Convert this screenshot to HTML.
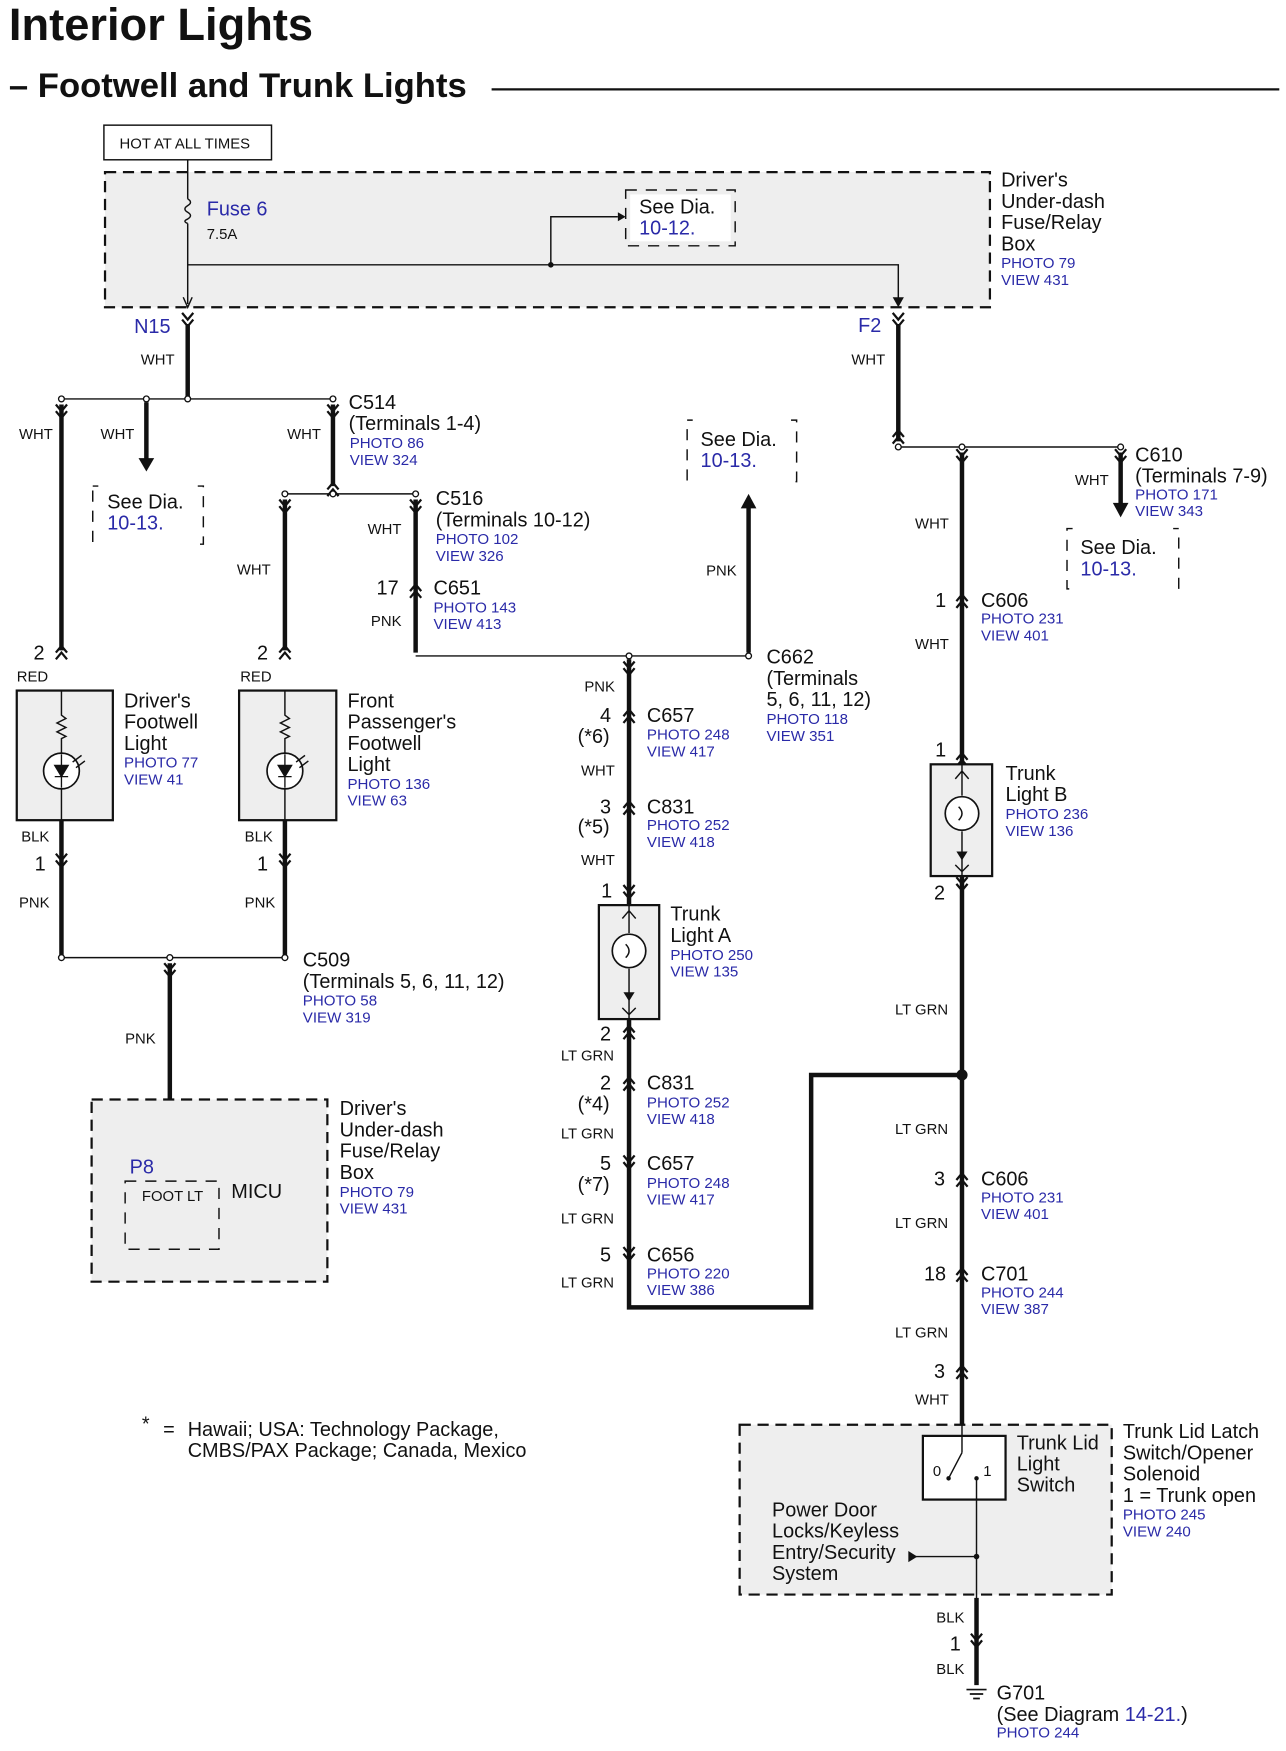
<!DOCTYPE html>
<html><head><meta charset="utf-8"><style>
html,body{margin:0;padding:0;background:#fff}
svg{display:block}
text{font-family:"Liberation Sans",Arial,sans-serif;fill:#111;font-size:17.8px}
.b{fill:#2a2aa8}
.s{font-size:13.3px}
.sb{font-size:13.5px;fill:#2a2aa8}
.w{stroke:#111;stroke-width:4;fill:none}
.t{stroke:#111;stroke-width:1.3;fill:none}
.d{stroke:#111;stroke-width:2;stroke-dasharray:10 6;fill:#eee}
.dn{stroke:#111;stroke-width:1.3;stroke-dasharray:10 8;fill:none}
</style></head><body>
<svg width="1286" height="1751" viewBox="0 0 1151 1567" preserveAspectRatio="none" xmlns="http://www.w3.org/2000/svg">
<defs>
<g id="cn"><path d="M-5,2 L0,-4 L5,2 M-5,8 L0,2 L5,8" stroke="#111" stroke-width="2" fill="none"/></g>
<g id="cv"><path d="M-5,-2 L0,4 L5,-2 M-5,-8 L0,-2 L5,-8" stroke="#111" stroke-width="2" fill="none"/></g>
<g id="dot"><circle r="2.6" fill="#fff" stroke="#111" stroke-width="1.2"/></g>
</defs>
<text x="8" y="36" style="font-size:40.5px;font-weight:bold">Interior Lights</text>
<text x="8" y="87" style="font-size:31px;font-weight:bold">– Footwell and Trunk Lights</text>
<line x1="440" y1="80" x2="1145" y2="80" stroke="#111" stroke-width="2"/>

<rect x="93" y="112" width="150" height="31" fill="#fff" stroke="#111" stroke-width="1.3"/>
<text x="107" y="133" class="s">HOT AT ALL TIMES</text>
<rect x="94" y="154" width="792" height="121" class="d"/>
<path d="M168,143 V178 M168,200 V272" class="t"/>
<path d="M168,178 q5,3 0,6 q-5,3 0,6 q5,3 0,6 q-5,2 0,4" class="t"/>
<text x="185" y="193" class="b">Fuse 6</text>
<text x="185" y="214" class="s">7.5A</text>
<path d="M168,237 H804 V272 M493,237 V194 H553" class="t"/>
<path d="M799,266 L804,275 L809,266 Z" fill="#111"/><path d="M164,266 L168,275 L172,266" class="t"/>
<path d="M553,190 L560,194 L553,198 Z" fill="#111"/>
<circle cx="493" cy="237" r="2.5" fill="#111"/>
<rect x="560" y="170" width="98" height="50" class="dn" fill="#fff"/>
<rect x="564" y="174" width="90" height="42" fill="#fff"/>
<text x="572" y="191">See Dia.</text><text x="572" y="210" class="b">10-12.</text>
<text x="896" y="167">Driver's</text><text x="896" y="186">Under-dash</text><text x="896" y="205">Fuse/Relay</text><text x="896" y="224">Box</text>
<text x="896" y="240" class="sb">PHOTO 79</text><text x="896" y="255" class="sb">VIEW 431</text>

<text x="120" y="298" class="b">N15</text>
<use href="#cv" x="168" y="288"/>
<path d="M168,290 V357" class="w"/>
<text x="126" y="326" class="s">WHT</text>
<path d="M55,357 H298" class="t"/>
<use href="#dot" x="55" y="357"/><use href="#dot" x="131" y="357"/><use href="#dot" x="168" y="357"/><use href="#dot" x="298" y="357"/>
<path d="M55,362 V582" class="w"/><use href="#cv" x="55" y="370"/>
<text x="17" y="393" class="s">WHT</text>
<path d="M131,360 V412" class="w"/><path d="M124,410 L131,422 L138,410 Z" fill="#111"/>
<text x="90" y="393" class="s">WHT</text>
<rect x="83" y="435" width="99" height="52" class="dn"/><rect x="88" y="430" width="89" height="62" fill="#fff"/>
<text x="96" y="455">See Dia.</text><text x="96" y="474" class="b">10-13.</text>
<path d="M298,362 V435" class="w"/><use href="#cv" x="298" y="370"/><use href="#cn" x="298" y="436"/>
<text x="257" y="393" class="s">WHT</text>
<text x="312" y="366">C514</text><text x="312" y="385">(Terminals 1-4)</text>
<text x="313" y="401" class="sb">PHOTO 86</text><text x="313" y="416" class="sb">VIEW 324</text>
<path d="M255,442 H372" class="t"/>
<use href="#dot" x="255" y="442"/><use href="#dot" x="298" y="442"/><use href="#dot" x="372" y="442"/>
<path d="M255,447 V582" class="w"/><use href="#cv" x="255" y="455"/>
<text x="212" y="514" class="s">WHT</text>
<path d="M372,447 V584" class="w"/><use href="#cv" x="372" y="455"/><use href="#cn" x="372" y="527"/>
<text x="329" y="478" class="s">WHT</text>
<text x="390" y="452">C516</text><text x="390" y="471">(Terminals 10-12)</text>
<text x="390" y="487" class="sb">PHOTO 102</text><text x="390" y="502" class="sb">VIEW 326</text>
<text x="337" y="532">17</text><text x="388" y="532">C651</text>
<text x="388" y="548" class="sb">PHOTO 143</text><text x="388" y="563" class="sb">VIEW 413</text>
<text x="332" y="560" class="s">PNK</text>
<path d="M372,587 H670" class="t"/><use href="#dot" x="563" y="587"/><use href="#dot" x="670" y="587"/>
<path d="M670,584 V452" class="w"/><path d="M663,455 L670,442 L677,455 Z" fill="#111"/>
<text x="632" y="515" class="s">PNK</text>
<rect x="615" y="376" width="98" height="55" class="dn"/><rect x="620" y="371" width="88" height="65" fill="#fff"/>
<text x="627" y="399">See Dia.</text><text x="627" y="418" class="b">10-13.</text>
<text x="686" y="594">C662</text><text x="686" y="613">(Terminals</text><text x="686" y="632">5, 6, 11, 12)</text>
<text x="686" y="648" class="sb">PHOTO 118</text><text x="686" y="663" class="sb">VIEW 351</text>

<g>
<use href="#cn" x="55" y="582"/><text x="30" y="590">2</text><text x="15" y="610" class="s">RED</text>
<rect x="15" y="618" width="86" height="116" fill="#eee" stroke="#111" stroke-width="2"/>
<path d="M55,618 V640 l4,3 -8,4 8,4 -8,4 8,4 -4,2 V675 M55,705 V734" class="t"/>
<circle cx="55" cy="690" r="16" fill="#fff" stroke="#111" stroke-width="1.5"/>
<path d="M49,685 H61 L55,695 Z M49,695 H61 M55,675 V705" stroke="#111" stroke-width="1.2" fill="#111"/>
<path d="M65,682 l8,-6 M68,687 l8,-6" class="t"/>
<text x="111" y="633">Driver's</text><text x="111" y="652">Footwell</text><text x="111" y="671">Light</text>
<text x="111" y="687" class="sb">PHOTO 77</text><text x="111" y="702" class="sb">VIEW 41</text>
<path d="M55,734 V857" class="w"/><use href="#cv" x="55" y="772"/>
<text x="19" y="753" class="s">BLK</text><text x="31" y="779">1</text><text x="17" y="812" class="s">PNK</text>
</g>
<g>
<use href="#cn" x="255" y="582"/><text x="230" y="590">2</text><text x="215" y="610" class="s">RED</text>
<rect x="214" y="618" width="87" height="116" fill="#eee" stroke="#111" stroke-width="2"/>
<path d="M255,618 V640 l4,3 -8,4 8,4 -8,4 8,4 -4,2 V675 M255,705 V734" class="t"/>
<circle cx="255" cy="690" r="16" fill="#fff" stroke="#111" stroke-width="1.5"/>
<path d="M249,685 H261 L255,695 Z M249,695 H261 M255,675 V705" stroke="#111" stroke-width="1.2" fill="#111"/>
<path d="M265,682 l8,-6 M268,687 l8,-6" class="t"/>
<text x="311" y="633">Front</text><text x="311" y="652">Passenger's</text><text x="311" y="671">Footwell</text><text x="311" y="690">Light</text>
<text x="311" y="706" class="sb">PHOTO 136</text><text x="311" y="721" class="sb">VIEW 63</text>
<path d="M255,734 V857" class="w"/><use href="#cv" x="255" y="772"/>
<text x="219" y="753" class="s">BLK</text><text x="230" y="779">1</text><text x="219" y="812" class="s">PNK</text>
</g>
<path d="M55,857 H255" class="t"/><use href="#dot" x="55" y="857"/><use href="#dot" x="152" y="857"/><use href="#dot" x="255" y="857"/>
<text x="271" y="865">C509</text><text x="271" y="884">(Terminals 5, 6, 11, 12)</text>
<text x="271" y="900" class="sb">PHOTO 58</text><text x="271" y="915" class="sb">VIEW 319</text>
<path d="M152,862 V1060" class="w"/><use href="#cv" x="152" y="870"/>
<text x="112" y="934" class="s">PNK</text>
<rect x="82" y="984" width="211" height="163" class="d"/>
<text x="116" y="1050" class="b">P8</text>
<rect x="112" y="1057" width="84" height="61" class="dn"/>
<text x="127" y="1075" class="s">FOOT LT</text><text x="207" y="1072">MICU</text>
<text x="304" y="998">Driver's</text><text x="304" y="1017">Under-dash</text><text x="304" y="1036">Fuse/Relay</text><text x="304" y="1055">Box</text>
<text x="304" y="1071" class="sb">PHOTO 79</text><text x="304" y="1086" class="sb">VIEW 431</text>

<path d="M563,590 V810 M563,912 V1170 H726 V962 H861" class="w"/>
<use href="#cv" x="563" y="600"/><use href="#cn" x="563" y="639"/><use href="#cn" x="563" y="721"/><use href="#cv" x="563" y="800"/>
<use href="#cn" x="563" y="922"/><use href="#cn" x="563" y="968"/><use href="#cv" x="563" y="1042"/><use href="#cv" x="563" y="1124"/>
<text x="523" y="619" class="s">PNK</text>
<text x="537" y="646">4</text><text x="517" y="665">(*6)</text>
<text x="579" y="646">C657</text><text x="579" y="662" class="sb">PHOTO 248</text><text x="579" y="677" class="sb">VIEW 417</text>
<text x="520" y="694" class="s">WHT</text>
<text x="537" y="728">3</text><text x="517" y="746">(*5)</text>
<text x="579" y="728">C831</text><text x="579" y="743" class="sb">PHOTO 252</text><text x="579" y="758" class="sb">VIEW 418</text>
<text x="520" y="774" class="s">WHT</text><text x="538" y="803">1</text>
<rect x="536" y="810" width="54" height="102" fill="#eee" stroke="#111" stroke-width="2"/>
<path d="M563,810 V835 M563,867 V912 M557,822 L563,815 L569,822 M557,902 L563,908 L569,902" class="t"/>
<circle cx="563" cy="851" r="15" fill="#fff" stroke="#111" stroke-width="1.5"/>
<path d="M560,845 q6,6 0,12" class="t"/><path d="M558,888 H568 L563,896 Z" fill="#111"/>
<text x="600" y="824">Trunk</text><text x="600" y="843">Light A</text>
<text x="600" y="859" class="sb">PHOTO 250</text><text x="600" y="874" class="sb">VIEW 135</text>
<text x="537" y="931">2</text><text x="502" y="949" class="s">LT GRN</text>
<text x="537" y="975">2</text><text x="517" y="994">(*4)</text>
<text x="579" y="975">C831</text><text x="579" y="991" class="sb">PHOTO 252</text><text x="579" y="1006" class="sb">VIEW 418</text>
<text x="502" y="1019" class="s">LT GRN</text>
<text x="537" y="1047">5</text><text x="517" y="1066">(*7)</text>
<text x="579" y="1047">C657</text><text x="579" y="1063" class="sb">PHOTO 248</text><text x="579" y="1078" class="sb">VIEW 417</text>
<text x="502" y="1095" class="s">LT GRN</text>
<text x="537" y="1129">5</text>
<text x="579" y="1129">C656</text><text x="579" y="1144" class="sb">PHOTO 220</text><text x="579" y="1159" class="sb">VIEW 386</text>
<text x="502" y="1152" class="s">LT GRN</text>

<text x="768" y="297" class="b">F2</text>
<path d="M804,290 V395" class="w"/><use href="#cv" x="804" y="288"/><use href="#cn" x="804" y="389"/>
<text x="762" y="326" class="s">WHT</text>
<path d="M804,400 H1003" class="t"/><use href="#dot" x="804" y="400"/><use href="#dot" x="861" y="400"/><use href="#dot" x="1003" y="400"/>
<path d="M1003,405 V452" class="w"/><use href="#cv" x="1003" y="410"/><path d="M996,450 L1003,463 L1010,450 Z" fill="#111"/>
<text x="962" y="434" class="s">WHT</text>
<text x="1016" y="413">C610</text><text x="1016" y="432">(Terminals 7-9)</text>
<text x="1016" y="447" class="sb">PHOTO 171</text><text x="1016" y="462" class="sb">VIEW 343</text>
<rect x="955" y="473" width="100" height="54" class="dn"/><rect x="960" y="468" width="90" height="64" fill="#fff"/>
<text x="967" y="496">See Dia.</text><text x="967" y="515" class="b">10-13.</text>
<path d="M861,405 V684 M861,784 V1275" class="w"/>
<use href="#cv" x="861" y="410"/><use href="#cn" x="861" y="536"/><use href="#cn" x="861" y="678"/><use href="#cv" x="861" y="793"/>
<use href="#cn" x="861" y="1054"/><use href="#cn" x="861" y="1139"/><use href="#cn" x="861" y="1226"/>
<text x="819" y="473" class="s">WHT</text>
<text x="837" y="543">1</text><text x="878" y="543">C606</text>
<text x="878" y="558" class="sb">PHOTO 231</text><text x="878" y="573" class="sb">VIEW 401</text>
<text x="819" y="581" class="s">WHT</text><text x="837" y="677">1</text>
<rect x="833" y="684" width="55" height="100" fill="#eee" stroke="#111" stroke-width="2"/>
<path d="M861,684 V712 M861,744 V784 M855,697 L861,690 L867,697 M855,774 L861,780 L867,774" class="t"/>
<circle cx="861" cy="728" r="15" fill="#fff" stroke="#111" stroke-width="1.5"/>
<path d="M858,722 q6,6 0,12" class="t"/><path d="M856,762 H866 L861,770 Z" fill="#111"/>
<text x="900" y="698">Trunk</text><text x="900" y="717">Light B</text>
<text x="900" y="733" class="sb">PHOTO 236</text><text x="900" y="748" class="sb">VIEW 136</text>
<text x="836" y="805">2</text><text x="801" y="908" class="s">LT GRN</text>
<circle cx="861" cy="962" r="5" fill="#111"/>
<text x="801" y="1015" class="s">LT GRN</text>
<text x="836" y="1061">3</text><text x="878" y="1061">C606</text>
<text x="878" y="1076" class="sb">PHOTO 231</text><text x="878" y="1091" class="sb">VIEW 401</text>
<text x="801" y="1099" class="s">LT GRN</text>
<text x="827" y="1146">18</text><text x="878" y="1146">C701</text>
<text x="878" y="1161" class="sb">PHOTO 244</text><text x="878" y="1176" class="sb">VIEW 387</text>
<text x="801" y="1197" class="s">LT GRN</text>
<text x="836" y="1233">3</text><text x="819" y="1257" class="s">WHT</text>

<rect x="662" y="1275" width="333" height="152" class="d"/>
<rect x="826" y="1285" width="74" height="57" fill="#fff" stroke="#111" stroke-width="2"/>
<path d="M861,1275 V1300 M861,1300 L849,1323 M874,1323 V1440 M874,1393 H818" class="t"/>
<circle cx="849" cy="1323" r="2" fill="#111"/><circle cx="874" cy="1323" r="2" fill="#111"/><circle cx="874" cy="1393" r="2.5" fill="#111"/>
<path d="M813,1388 L821,1393 L813,1398 Z" fill="#111"/>
<text x="835" y="1321" class="s">0</text><text x="880" y="1321" class="s">1</text>
<text x="910" y="1297">Trunk Lid</text><text x="910" y="1316">Light</text><text x="910" y="1335">Switch</text>
<text x="1005" y="1287">Trunk Lid Latch</text><text x="1005" y="1306">Switch/Opener</text><text x="1005" y="1325">Solenoid</text><text x="1005" y="1344">1 = Trunk open</text>
<text x="1005" y="1360" class="sb">PHOTO 245</text><text x="1005" y="1375" class="sb">VIEW 240</text>
<text x="691" y="1357">Power Door</text><text x="691" y="1376">Locks/Keyless</text><text x="691" y="1395">Entry/Security</text><text x="691" y="1414">System</text>
<path d="M874,1430 V1508" class="w"/><use href="#cv" x="874" y="1470"/>
<text x="838" y="1452" class="s">BLK</text><text x="850" y="1477">1</text><text x="838" y="1498" class="s">BLK</text>
<path d="M865,1512 H883 M868,1516 H880 M871,1520 H877" stroke="#111" stroke-width="1.5"/>
<text x="892" y="1521">G701</text><text x="892" y="1540">(See Diagram <tspan class="b">14-21.</tspan>)</text>
<text x="892" y="1555" class="sb">PHOTO 244</text>

<text x="127" y="1280">*</text><text x="146" y="1285">=</text>
<text x="168" y="1285">Hawaii; USA: Technology Package,</text>
<text x="168" y="1304">CMBS/PAX Package; Canada, Mexico</text>
</svg>
</body></html>
